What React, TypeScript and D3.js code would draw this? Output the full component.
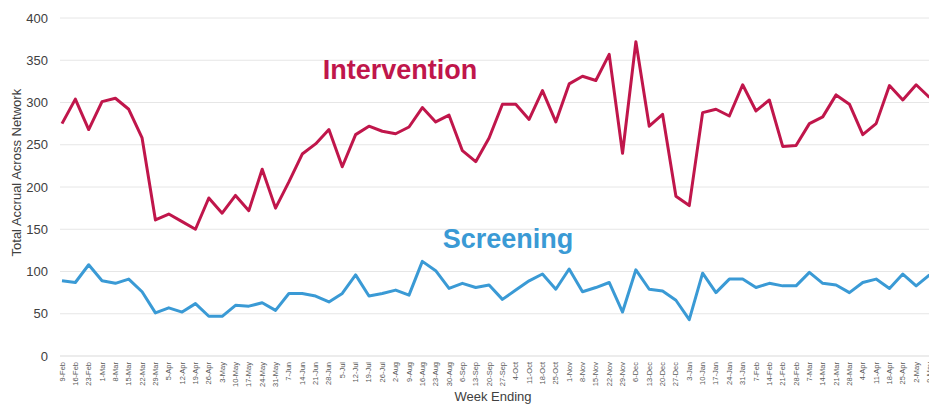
import React from 'react';
import * as d3 from 'd3';

const weeks = [
  '9-Feb', '16-Feb', '23-Feb', '1-Mar', '8-Mar', '15-Mar', '22-Mar', '29-Mar', '5-Apr', '12-Apr',
  '19-Apr', '26-Apr', '3-May', '10-May', '17-May', '24-May', '31-May', '7-Jun', '14-Jun', '21-Jun',
  '28-Jun', '5-Jul', '12-Jul', '19-Jul', '26-Jul', '2-Aug', '9-Aug', '16-Aug', '23-Aug', '30-Aug',
  '6-Sep', '13-Sep', '20-Sep', '27-Sep', '4-Oct', '11-Oct', '18-Oct', '25-Oct', '1-Nov', '8-Nov',
  '15-Nov', '22-Nov', '29-Nov', '6-Dec', '13-Dec', '20-Dec', '27-Dec', '3-Jan', '10-Jan', '17-Jan',
  '24-Jan', '31-Jan', '7-Feb', '14-Feb', '21-Feb', '28-Feb', '7-Mar', '14-Mar', '21-Mar', '28-Mar',
  '4-Apr', '11-Apr', '18-Apr', '25-Apr', '2-May', '9-May',
];

const intervention = [
  275, 304, 268, 301, 305, 292, 258, 161, 168, 159,
  150, 187, 169, 190, 172, 221, 175, 206, 239, 251,
  268, 224, 262, 272, 266, 263, 271, 294, 277, 285,
  243, 230, 258, 298, 298, 280, 314, 277, 322, 331,
  326, 357, 240, 372, 272, 286, 189, 178, 288, 292,
  284, 321, 290, 303, 248, 249, 275, 283, 309, 298,
  262, 275, 320, 303, 321, 306,
];

const screening = [
  89, 87, 108, 89, 86, 91, 76, 51, 57, 52,
  62, 47, 47, 60, 59, 63, 54, 74, 74, 71,
  64, 74, 96, 71, 74, 78, 72, 112, 101, 80,
  86, 81, 84, 67, 78, 89, 97, 79, 103, 76,
  81, 87, 52, 102, 79, 77, 66, 43, 98, 75,
  91, 91, 81, 86, 83, 83, 99, 86, 84, 75,
  87, 91, 80, 97, 83, 96,
];

const yTicks = [0, 50, 100, 150, 200, 250, 300, 350, 400];

const W = 929;
const H = 404;
const RED = '#c0164b';
const BLUE = '#3a9ad5';

export default function App() {
  const x = d3.scalePoint<string>().domain(weeks).range([62, 929.5]);
  const y = d3.scaleLinear().domain([0, 400]).range([356, 18]);

  const line = d3.line<number>()
    .x((_, i) => x(weeks[i]) as number)
    .y(d => y(d));

  const font = 'Arial, "Liberation Sans", sans-serif';

  return (
    <div style={{ position: 'absolute', left: 0, top: 0 }}>
      <svg width={W} height={H} style={{ display: 'block', background: '#fff' }} fontFamily={font}>
        {/* gridlines */}
        {yTicks.map(t => (
          <line key={t} x1={60} x2={W} y1={y(t)} y2={y(t)}
            stroke={t === 0 ? '#d9d9d9' : '#e6e6e6'} strokeWidth={1} />
        ))}
        {/* y tick labels */}
        {yTicks.map(t => (
          <text key={'l' + t} x={48} y={y(t)} dy="0.35em" textAnchor="end"
            fontSize={13} fill="#404040">{t}</text>
        ))}
        <text transform={`translate(21,${y(217)}) rotate(-90)`} textAnchor="middle"
          fontSize={13} fill="#404040">Total Accrual Across Network</text>

        {/* x tick labels, the last one runs off the edge as in the source */}
        {weeks.map(w => (
          <text key={w + 'x'} transform={`translate(${(x(w) as number) + 2.5},362) rotate(-90)`}
            textAnchor="end" fontSize={7.5} fill="#595959">{w}</text>
        ))}
        <text x={493} y={401} textAnchor="middle" fontSize={13} fill="#404040">Week Ending</text>

        {/* series */}
        <path d={line(intervention) || ''} fill="none" stroke={RED} strokeWidth={3}
          strokeLinejoin="round" />
        <path d={line(screening) || ''} fill="none" stroke={BLUE} strokeWidth={3}
          strokeLinejoin="round" />

        <text x={400} y={79} textAnchor="middle" fontSize={27} fontWeight="bold" fill={RED}>Intervention</text>
        <text x={508} y={248} textAnchor="middle" fontSize={27} fontWeight="bold" fill={BLUE}>Screening</text>
      </svg>
    </div>
  );
}
